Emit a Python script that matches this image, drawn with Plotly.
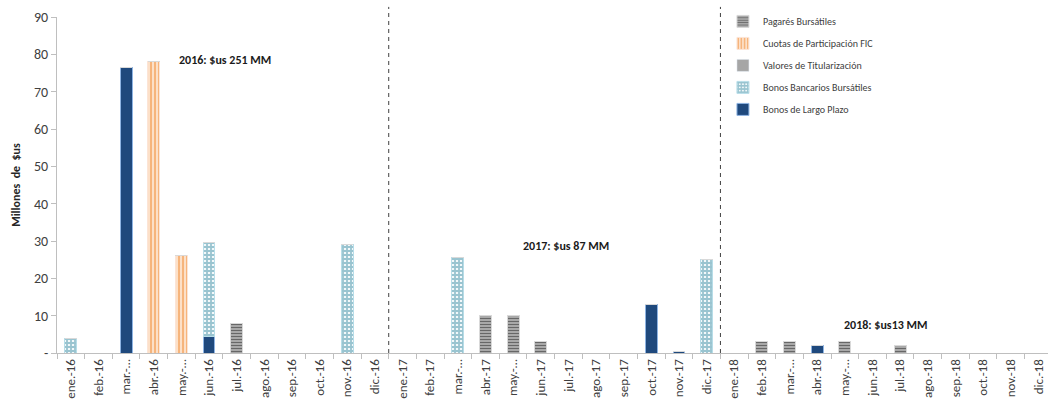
import plotly.graph_objects as go

# Months (categories) and their displayed tick labels
months = [
    "ene.-16", "feb.-16", "mar.-16", "abr.-16", "may.-16", "jun.-16",
    "jul.-16", "ago.-16", "sep.-16", "oct.-16", "nov.-16", "dic.-16",
    "ene.-17", "feb.-17", "mar.-17", "abr.-17", "may.-17", "jun.-17",
    "jul.-17", "ago.-17", "sep.-17", "oct.-17", "nov.-17", "dic.-17",
    "ene.-18", "feb.-18", "mar.-18", "abr.-18", "may.-18", "jun.-18",
    "jul.-18", "ago.-18", "sep.-18", "oct.-18", "nov.-18", "dic.-18",
]
tick_text = [m if m[:4] not in ("mar.", "may.") else m[:5] + "\u2026" for m in months]

# Monthly issuance by instrument (millions of $us)
bonos_largo_plazo = [0, 0, 76.5, 0, 0, 4.5, 0, 0, 0, 0, 0, 0,
                     0, 0, 0, 0, 0, 0, 0, 0, 0, 13, 0.4, 0,
                     0, 0, 0, 2, 0, 0, 0, 0, 0, 0, 0, 0]
bonos_bancarios = [4, 0, 0, 0, 0, 25, 0, 0, 0, 0, 29, 0,
                   0, 0, 25.5, 0, 0, 0, 0, 0, 0, 0, 0, 25,
                   0, 0, 0, 0, 0, 0, 0, 0, 0, 0, 0, 0]
valores_titularizacion = [0] * 36
cuotas_fic = [0, 0, 0, 78, 26, 0, 0, 0, 0, 0, 0, 0,
              0, 0, 0, 0, 0, 0, 0, 0, 0, 0, 0, 0,
              0, 0, 0, 0, 0, 0, 0, 0, 0, 0, 0, 0]
pagares = [0, 0, 0, 0, 0, 0, 8, 0, 0, 0, 0, 0,
           0, 0, 0, 10, 10, 3, 0, 0, 0, 0, 0, 0,
           0, 3, 3, 0, 3, 0, 2, 0, 0, 0, 0, 0]

y_ticks = [0, 10, 20, 30, 40, 50, 60, 70, 80, 90]
y_tick_text = ["-", "10", "20", "30", "40", "50", "60", "70", "80", "90"]

year_labels = ["2016: $us 251 MM", "2017: $us 87 MM", "2018: $us13 MM"]

FONT = "Carlito, Lato, sans-serif"
TXT = "#404040"
AXIS = "#BFBFBF"

fig = go.Figure()

series = [
    ("Bonos de Largo Plazo", bonos_largo_plazo,
     dict(color="#1F497D", line=dict(color="#8EB4E3", width=1))),
    ("Bonos Bancarios Bursátiles", bonos_bancarios,
     dict(color="#FFFFFF", line=dict(color="#B7DDE8", width=1),
          pattern=dict(shape="+", fgcolor="#3F8FA5", bgcolor="#F2F8FA",
                       size=4, solidity=0.7))),
    ("Valores de Titularización", valores_titularizacion,
     dict(color="#A6A6A6")),
    ("Cuotas de Participación FIC", cuotas_fic,
     dict(color="#FBD4B4", line=dict(color="#FCE4D6", width=1),
          pattern=dict(shape="|", fgcolor="#F07F1E", bgcolor="#FCE0C8",
                       size=4, solidity=0.45))),
    ("Pagarés Bursátiles", pagares,
     dict(color="#BFBFBF", line=dict(color="#D9D9D9", width=1),
          pattern=dict(shape="-", fgcolor="#111111", bgcolor="#BDBDBD",
                       size=3, solidity=0.5))),
]

n = len(series)
for i, (name, vals, marker) in enumerate(series):
    fig.add_trace(go.Bar(
        x=months, y=vals, name=name, marker=marker,
        legendgroup=f"g{i}", legendrank=n - i,
    ))

fig.update_layout(
    width=1048, height=408,
    margin=dict(l=57, r=0, t=17, b=55),
    paper_bgcolor="white", plot_bgcolor="white",
    barmode="stack", bargap=0.57,
    font=dict(family=FONT, color=TXT, size=11),
    showlegend=True,
    legend=dict(
        x=0.672, y=1.03, xanchor="left", yanchor="top",
        traceorder="grouped", tracegroupgap=3,
        font=dict(size=10, color=TXT, family=FONT),
        itemwidth=30, bgcolor="rgba(0,0,0,0)",
    ),
)

fig.update_xaxes(
    type="category", categoryorder="array", categoryarray=months,
    tickmode="array", tickvals=months, ticktext=tick_text,
    tickangle=-90, tickfont=dict(size=13, color=TXT, family=FONT),
    showline=True, linecolor=AXIS, linewidth=1,
    ticks="outside", tickson="boundaries", ticklen=5, tickcolor=AXIS,
    showgrid=False, range=[-0.5, 35.35],
)
fig.update_yaxes(
    range=[0, 90], tickmode="array", tickvals=y_ticks, ticktext=y_tick_text,
    tickfont=dict(size=14, color=TXT, family=FONT),
    showline=True, linecolor=AXIS, linewidth=1,
    ticks="outside", ticklen=5, tickcolor=AXIS,
    showgrid=False, zeroline=False,
    title=dict(text="<b>Millones\u00a0\u00a0de\u00a0\u00a0$us</b>",
               font=dict(size=12, color="#262626"), standoff=10),
)

# Year separators
for xb in (11.5, 23.5):
    fig.add_shape(type="line", xref="x", yref="paper", x0=xb, x1=xb,
                  y0=0, y1=1.03, line=dict(color="#404040", width=1, dash="4px,4px"))

# Yearly totals
for text, xa, ya in zip(year_labels, [5.56, 17.9, 29.5], [78.5, 28.7, 7.5]):
    fig.add_annotation(x=xa, y=ya, xref="x", yref="y", text=f"<b>{text}</b>",
                       showarrow=False, font=dict(size=12, color="#1A1A1A", family=FONT))

fig.write_html("out.html")
